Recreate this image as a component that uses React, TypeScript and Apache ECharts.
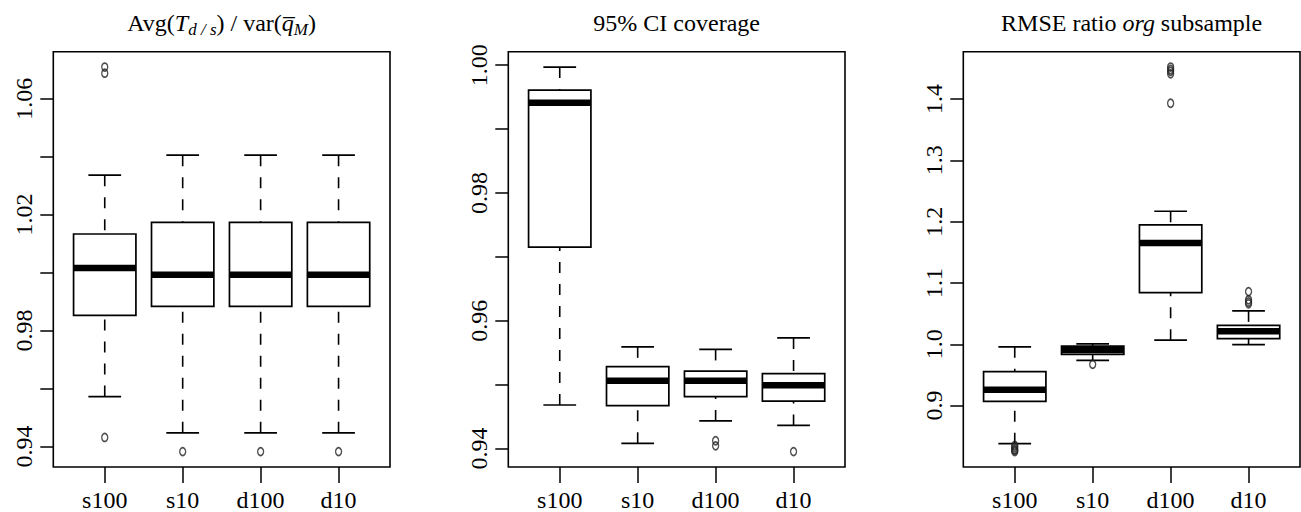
import React, { useEffect, useRef } from "react";
import * as echarts from "echarts";

const categories = ["s100", "s10", "d100", "d10"];

// [lower whisker, Q1, median, Q3, upper whisker]
const ratioStats = [
  [0.9572, 0.9852, 1.0016, 1.0133, 1.0336],
  [0.9447, 0.9883, 0.9992, 1.0173, 1.0405],
  [0.9447, 0.9883, 0.9992, 1.0173, 1.0405],
  [0.9447, 0.9883, 0.9992, 1.0173, 1.0405],
];
const ratioOutliers = [[0.9431, 1.0688, 1.0709], [0.9382], [0.9382], [0.9382]];

const coverageStats = [
  [0.9468, 0.9715, 0.9941, 0.9961, 0.9997],
  [0.9408, 0.9467, 0.9506, 0.9528, 0.9559],
  [0.9443, 0.9481, 0.9506, 0.9521, 0.9555],
  [0.9436, 0.9474, 0.9499, 0.9517, 0.9573],
];
const coverageOutliers = [[], [], [0.9412, 0.9404], [0.9395]];

const rmseStats = [
  [0.8379, 0.907, 0.9259, 0.9555, 0.9959],
  [0.9737, 0.9834, 0.9905, 0.997, 1.0007],
  [1.0067, 1.0843, 1.1651, 1.1947, 1.2169],
  [0.9996, 1.0093, 1.0212, 1.031, 1.0545],
];
const rmseOutliers = [
  [0.835, 0.832, 0.829, 0.827, 0.825],
  [0.9673],
  [1.393, 1.441, 1.445, 1.448, 1.452],
  [1.0859, 1.0725, 1.069, 1.066],
];

const ratioTicks = [0.94, 0.96, 0.98, 1.0, 1.02, 1.04, 1.06];
const ratioLabels = [0.94, 0.98, 1.02, 1.06];
const coverageTicks = [0.94, 0.95, 0.96, 0.97, 0.98, 0.99, 1.0];
const coverageLabels = [0.94, 0.96, 0.98, 1.0];
const rmseTicks = [0.9, 1.0, 1.1, 1.2, 1.3, 1.4];
const rmseLabels = [0.9, 1.0, 1.1, 1.2, 1.3, 1.4];

const FONT = "Liberation Serif";
const FS = 24;

function rangeOf(stats: number[][], outliers: number[][]) {
  const all: number[] = [];
  stats.forEach((s) => all.push(...s));
  outliers.forEach((o) => all.push(...o));
  const lo = Math.min(...all);
  const hi = Math.max(...all);
  const pad = (hi - lo) * 0.04;
  return [lo - pad, hi + pad];
}

const panels = [
  { stats: ratioStats, outliers: ratioOutliers, ticks: ratioTicks, labels: ratioLabels, dec: 2, left: 53.3 },
  { stats: coverageStats, outliers: coverageOutliers, ticks: coverageTicks, labels: coverageLabels, dec: 2, left: 508.3 },
  { stats: rmseStats, outliers: rmseOutliers, ticks: rmseTicks, labels: rmseLabels, dec: 1, left: 963.3 },
];
const PW = 336.7;
const TOP = 51.7;
const BOTTOM = 469.5;

export default function App() {
  const ref = useRef<HTMLDivElement>(null);
  useEffect(() => {
    if (!ref.current) return;
    const chart = echarts.init(ref.current, null, { renderer: "svg" });
    const grid: any[] = [];
    const xAxis: any[] = [];
    const yAxis: any[] = [];
    const series: any[] = [];
    panels.forEach((p, i) => {
      const [ymin, ymax] = rangeOf(p.stats, p.outliers);
      grid.push({
        left: p.left,
        top: TOP,
        width: PW,
        height: BOTTOM - TOP,
        show: true,
        borderColor: "#000",
        borderWidth: 1.6,
        backgroundColor: "transparent",
      });
      xAxis.push({
        type: "value",
        gridIndex: i,
        min: 0.34,
        max: 4.66,
        axisLine: { show: false },
        splitLine: { show: false },
        axisTick: {
          show: true,
          length: 16,
          customValues: [1, 2, 3, 4],
          lineStyle: { color: "#000", width: 1.5 },
        },
        axisLabel: {
          customValues: [1, 2, 3, 4],
          formatter: (v: number) => categories[Math.round(v) - 1] ?? "",
          fontFamily: FONT,
          fontSize: FS,
          color: "#000",
          margin: 21,
        },
      });
      yAxis.push({
        type: "value",
        gridIndex: i,
        min: ymin,
        max: ymax,
        axisLine: { show: false },
        splitLine: { show: false },
        axisTick: {
          show: true,
          length: 13,
          customValues: p.ticks,
          lineStyle: { color: "#000", width: 1.5 },
        },
        axisLabel: {
          customValues: p.labels,
          formatter: (v: number) => v.toFixed(p.dec),
          rotate: 90,
          fontFamily: FONT,
          fontSize: FS,
          color: "#000",
          margin: 17,
        },
      });
      series.push({
        type: "custom",
        xAxisIndex: i,
        yAxisIndex: i,
        data: p.stats.map((s, k) => [k + 1, ...s]),
        encode: { x: 0, y: [1, 2, 3, 4, 5] },
        renderItem: (params: any, api: any) => {
          const x = api.value(0);
          const lo = api.value(1), q1 = api.value(2), med = api.value(3), q3 = api.value(4), hi = api.value(5);
          const hw = 0.4, cw = 0.21;
          const pL = api.coord([x - hw, q3]);
          const pR = api.coord([x + hw, q1]);
          const c = (xx: number, yy: number) => api.coord([xx, yy]);
          const stroke = { stroke: "#000", lineWidth: 1.7, fill: "none" };
          const dash = { stroke: "#000", lineWidth: 1.6, lineDash: [11, 11] };
          const mL = c(x - hw, med), mR = c(x + hw, med);
          const children: any[] = [
            { type: "line", shape: { x1: c(x, hi)[0], y1: c(x, hi)[1], x2: c(x, q3)[0], y2: c(x, q3)[1] }, style: dash },
            { type: "line", shape: { x1: c(x, lo)[0], y1: c(x, lo)[1], x2: c(x, q1)[0], y2: c(x, q1)[1] }, style: dash },
            { type: "line", shape: { x1: c(x - cw, hi)[0], y1: c(x - cw, hi)[1], x2: c(x + cw, hi)[0], y2: c(x + cw, hi)[1] }, style: { stroke: "#000", lineWidth: 1.7 } },
            { type: "line", shape: { x1: c(x - cw, lo)[0], y1: c(x - cw, lo)[1], x2: c(x + cw, lo)[0], y2: c(x + cw, lo)[1] }, style: { stroke: "#000", lineWidth: 1.7 } },
            { type: "rect", shape: { x: pL[0], y: pL[1], width: pR[0] - pL[0], height: pR[1] - pL[1] }, style: stroke },
            { type: "line", shape: { x1: mL[0], y1: mL[1], x2: mR[0], y2: mR[1] }, style: { stroke: "#000", lineWidth: 6.5, lineCap: "butt" } },
          ];
          return { type: "group", children };
        },
        z: 2,
      });
      const pts: number[][] = [];
      p.outliers.forEach((arr, k) => arr.forEach((v) => pts.push([k + 1, v])));
      series.push({
        type: "scatter",
        xAxisIndex: i,
        yAxisIndex: i,
        data: pts,
        symbol: "circle",
        symbolSize: [6, 8],
        itemStyle: { color: "transparent", borderColor: "#222", borderWidth: 1.5 },
        z: 3,
      });
    });

    const graphic = [
      {
        type: "text",
        x: 53.3 + PW / 2,
        y: 23,
        style: {
          text: "{n|Avg(}{i|T}{s|d / s}{n|) / var(}{i|q\u0305}{s|M}{n|)}",
          align: "center",
          verticalAlign: "middle",
          rich: {
            n: { fontFamily: FONT, fontSize: FS, lineHeight: 30, fill: "#000", verticalAlign: "middle" },
            i: { fontFamily: FONT, fontSize: FS, fontStyle: "italic", lineHeight: 30, fill: "#000", verticalAlign: "middle" },
            s: { fontFamily: FONT, fontSize: 17, fontStyle: "italic", lineHeight: 17, fill: "#000", verticalAlign: "bottom" },
          },
        },
      },
      {
        type: "text",
        x: 508.3 + PW / 2,
        y: 23,
        style: {
          text: "95% CI coverage",
          align: "center",
          verticalAlign: "middle",
          fontFamily: FONT,
          fontSize: FS,
          fill: "#000",
        },
      },
      {
        type: "text",
        x: 963.3 + PW / 2,
        y: 23,
        style: {
          text: "{n|RMSE ratio }{i|org}{n| subsample}",
          align: "center",
          verticalAlign: "middle",
          rich: {
            n: { fontFamily: FONT, fontSize: FS, fill: "#000" },
            i: { fontFamily: FONT, fontSize: FS, fontStyle: "italic", fill: "#000" },
          },
        },
      },
    ];

    chart.setOption({
      animation: false,
      backgroundColor: "#fff",
      grid,
      xAxis,
      yAxis,
      series,
      graphic,
    });
    return () => chart.dispose();
  }, []);
  return (
    <div
      ref={ref}
      style={{ position: "fixed", left: 0, top: 0, width: 1301, height: 512 }}
    />
  );
}
